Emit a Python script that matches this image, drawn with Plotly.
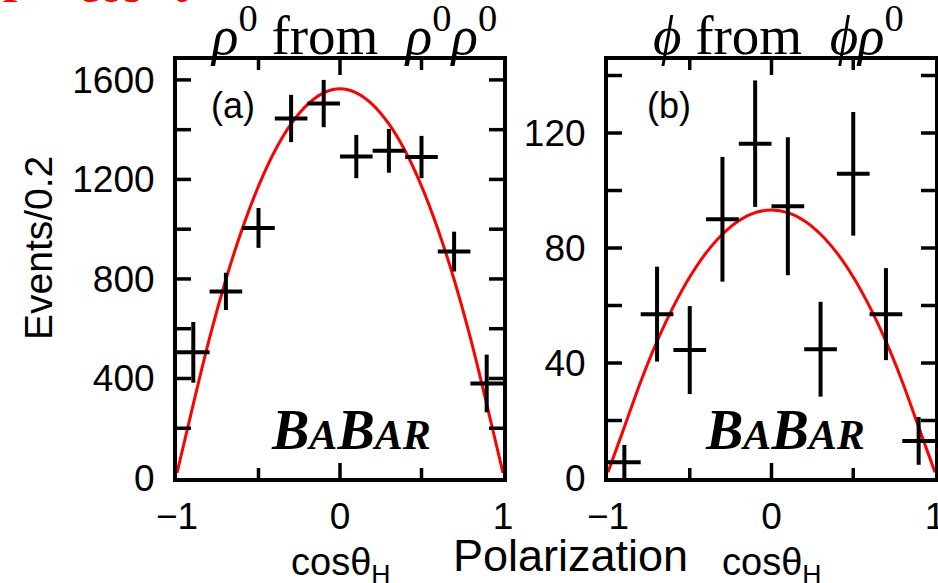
import plotly.graph_objects as go

# ---- data -------------------------------------------------------------
cos_bins = [-0.9, -0.7, -0.5, -0.3, -0.1, 0.1, 0.3, 0.5, 0.7, 0.9]
bin_half_width = 0.1

# (a) rho0 from rho0 rho0
rho_events = [505, 750, 1005, 1445, 1505, 1292, 1315, 1290, 910, 380]
rho_errors = [122, 75, 80, 95, 95, 87, 88, 85, 80, 116]

# (b) phi from phi rho0
phi_events = [5.5, 57, 44.5, 90, 116.3, 94.5, 44.8, 105.8, 57, 12.9]
phi_errors = [6, 16.5, 15.3, 21.7, 22, 24, 16.5, 21.5, 16, 8.3]

# fitted polarization curves, sampled every 0.1 in cos(theta_H)
fit_x = [-1.0, -0.9, -0.8, -0.7, -0.6, -0.5, -0.4, -0.3, -0.2, -0.1, 0.0,
         0.1, 0.2, 0.3, 0.4, 0.5, 0.6, 0.7, 0.8, 0.9, 1.0]
rho_fit = [20, 297, 563, 798, 1001, 1173, 1314, 1423, 1501, 1548, 1564,
           1548, 1501, 1423, 1314, 1173, 1001, 798, 563, 297, 20]
phi_fit = [2, 17.7, 33.5, 47.5, 59.6, 69.9, 78.3, 84.8, 89.5, 92.3, 93.2,
           92.3, 89.5, 84.8, 78.3, 69.9, 59.6, 47.5, 33.5, 17.7, 2]

# labelled ticks
x_label_vals = [-1, 0, 1]
x_label_text = ["\u22121", "0", "1"]
rho_label_vals = [0, 400, 800, 1200, 1600]
phi_label_vals = [0, 40, 80, 120]
# all tick marks drawn on the frames
x_major_marks = [0]
x_minor_marks = [-0.5, 0.5]
rho_marks = [200, 400, 600, 800, 1000, 1200, 1400, 1600]
phi_marks = [20, 40, 60, 80, 100, 120, 140]
rho_range = [0, 1680]
phi_range = [0, 145.4]

# ---- page geometry (pixels) ------------------------------------------
W, H = 938, 583
SANS = "Liberation Sans, Arial, sans-serif"
SERIF = "Liberation Serif, Times New Roman, serif"
XA = (177, 503)
XB = (608, 935)
YT, YB = 60, 478


def px(x):
    return x / W


def py(y):
    return (H - y) / H


fig = go.Figure()


def add_panel(xaxis, yaxis, values, errors, fit):
    fig.add_trace(go.Scatter(
        x=fit_x, y=fit, mode="lines", line=dict(color="#ff0000", width=3, shape="spline"),
        xaxis=xaxis, yaxis=yaxis, showlegend=False, hoverinfo="skip"))
    fig.add_trace(go.Scatter(
        x=cos_bins, y=values, mode="markers",
        marker=dict(size=1, color="black"),
        error_x=dict(type="constant", value=bin_half_width, color="black", thickness=4, width=0),
        error_y=dict(type="data", array=errors, color="black", thickness=4, width=0),
        xaxis=xaxis, yaxis=yaxis, showlegend=False))


add_panel("x", "y", rho_events, rho_errors, rho_fit)
add_panel("x2", "y2", phi_events, phi_errors, phi_fit)

base_axis = dict(
    showline=True, linecolor="black", linewidth=4, mirror=True,
    ticks="", showgrid=False, zeroline=False, automargin=False,
    ticklabeloverflow="allow",
    tickfont=dict(family=SANS, size=37, color="black"),
)


def x_axis(domain, anchor):
    return dict(base_axis, domain=domain, anchor=anchor, range=[-1, 1],
                tickmode="array", tickvals=x_label_vals, ticktext=x_label_text,
                ticklabelstandoff=3)


def y_axis(anchor, rng, vals):
    return dict(base_axis, domain=[py(YB), py(YT)], anchor=anchor, range=rng,
                tickmode="array", tickvals=vals, ticklabelstandoff=11)


fig.update_layout(
    template="none",
    width=W, height=H,
    margin=dict(l=0, r=0, t=0, b=0),
    paper_bgcolor="white", plot_bgcolor="white",
    xaxis=x_axis([px(XA[0]), px(XA[1])], "y"),
    xaxis2=x_axis([px(XB[0]), px(XB[1])], "y2"),
    yaxis=y_axis("x", rho_range, rho_label_vals),
    yaxis2=y_axis("x2", phi_range, phi_label_vals),
)


# inward tick marks on all four sides of a frame
def frame_ticks(xr, yr, frame_w, x_major, x_minor, y_marks):
    frame_h = YB - YT
    tick = dict(type="line", layer="above", line=dict(color="black", width=3.5))
    shapes = []
    for vals, length in ((x_major, 15), (x_minor, 10)):
        f = length / frame_h
        for v in vals:
            shapes.append(dict(tick, xref=xr, yref=yr + " domain", x0=v, x1=v, y0=0, y1=f))
            shapes.append(dict(tick, xref=xr, yref=yr + " domain", x0=v, x1=v, y0=1, y1=1 - f))
    f = 14 / frame_w
    for v in y_marks:
        shapes.append(dict(tick, xref=xr + " domain", yref=yr, x0=0, x1=f, y0=v, y1=v))
        shapes.append(dict(tick, xref=xr + " domain", yref=yr, x0=1, x1=1 - f, y0=v, y1=v))
    return shapes


fig.update_layout(shapes=frame_ticks("x", "y", XA[1] - XA[0], x_major_marks, x_minor_marks, rho_marks)
                  + frame_ticks("x2", "y2", XB[1] - XB[0], x_major_marks, x_minor_marks, phi_marks))

babar = ("<b><i>B<span style='font-size:42px'>A</span>"
         "B<span style='font-size:42px'>AR</span></i></b>")

annotations = [
    # panel titles
    dict(x=px(353), y=py(31), text="<i>\u03c1</i><sup>0</sup> from  <i>\u03c1</i><sup>0</sup><i>\u03c1</i><sup>0</sup>",
         font=dict(family=SERIF, size=55, color="black")),
    dict(x=px(778), y=py(31), text="<i>\u03d5</i> from  <i>\u03d5\u03c1</i><sup>0</sup>",
         font=dict(family=SERIF, size=55, color="black")),
    # panel tags
    dict(x=px(233), y=py(105), text="(a)", font=dict(family=SANS, size=36, color="black")),
    dict(x=px(669), y=py(105), text="(b)", font=dict(family=SANS, size=36, color="black")),
    # experiment labels
    dict(x=px(351), y=py(430), text=babar, font=dict(family=SERIF, size=56, color="black")),
    dict(x=px(785), y=py(430), text=babar, font=dict(family=SERIF, size=56, color="black")),
    # axis titles
    dict(x=px(38), y=py(248), text="Events/0.2", textangle=-90,
         font=dict(family=SANS, size=39, color="black")),
    dict(x=px(341), y=py(565), text="cos\u03b8<sub>H</sub>", font=dict(family=SANS, size=38, color="black")),
    dict(x=px(772), y=py(565), text="cos\u03b8<sub>H</sub>", font=dict(family=SANS, size=38, color="black")),
    dict(x=px(570), y=py(555), text="Polarization", font=dict(family=SANS, size=45, color="black")),
    # red formula running off the top edge
    dict(x=0, y=py(14), xanchor="left", yanchor="bottom",
         text="P = cos<sup>2</sup> \u03b8", font=dict(family=SERIF, size=48, color="#ff0000")),
]
for a in annotations:
    a.setdefault("xref", "paper")
    a.setdefault("yref", "paper")
    a.setdefault("showarrow", False)
    a.setdefault("xanchor", "center")
    a.setdefault("yanchor", "middle")
fig.update_layout(annotations=annotations)

fig.write_html("out.html")
